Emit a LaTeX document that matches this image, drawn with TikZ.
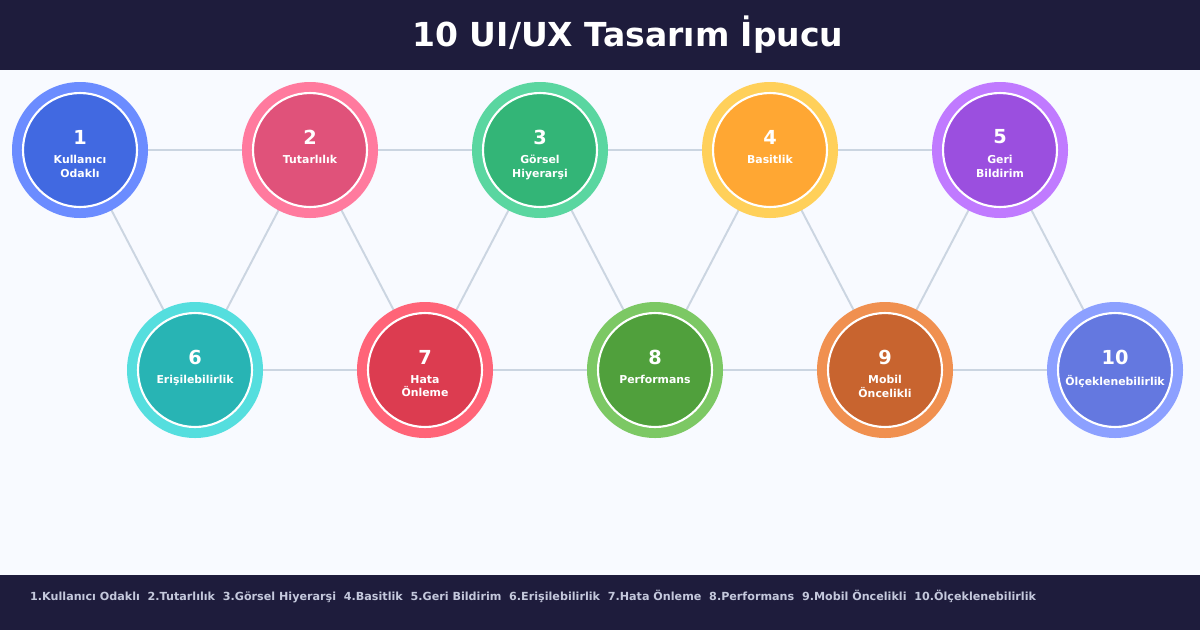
\documentclass[tikz,border=0pt]{standalone}
\usepackage{fontspec}
\setmainfont{DejaVu Sans}
\definecolor{navy}{HTML}{1E1C3C}
\definecolor{paper}{HTML}{F8FAFF}
\definecolor{link}{HTML}{CBD5E1}
\definecolor{foot}{HTML}{C4C8DC}
\tikzset{
  tip/.style={circle, minimum size=2.28cm, inner sep=0pt, draw=white, line width=1.2pt,
    text=white, font=\bfseries, align=center},
  link/.style={draw=link, line width=1.1pt}
}
\begin{document}
\begin{tikzpicture}[x=0.02cm, y=-0.02cm]
  \useasboundingbox (0,0) rectangle (1200,630);
  \fill[paper] (0,0) rectangle (1200,630);
  \fill[navy] (0,0) rectangle (1200,70);
  \fill[navy] (0,575) rectangle (1200,630);
  \node[text=white, font=\fontsize{18.8}{20}\selectfont\bfseries] (title) at (628,35) {10 UI/UX Tasarım İpucu};
  %connectors (drawn first, covered by circles)
  \foreach \n/\x/\y in {1/80/150,2/310/150,3/540/150,4/770/150,5/1000/150,
      6/195/370,7/425/370,8/655/370,9/885/370,10/1115/370}
    \coordinate (c\n) at (\x,\y);
  \foreach \a/\b in {1/2,2/3,3/4,4/5,6/7,7/8,8/9,9/10,1/6,6/2,2/7,7/3,3/8,8/4,4/9,9/5,5/10}
    \draw[link] (c\a) -- (c\b);
  %tips
  \foreach \n/\ring/\core/\txt in {
      1/6B8CFF/4169E1/{Kullanıcı\\Odaklı},
      2/FF7A9E/E0527A/{Tutarlılık},
      3/5AD6A0/33B577/{Görsel\\Hiyerarşi},
      4/FFD05A/FFA733/{Basitlik},
      5/C07AFF/9B4FDF/{Geri\\Bildirim},
      6/55DEDE/28B4B4/{Erişilebilirlik},
      7/FF6478/DC3C50/{Hata\\Önleme},
      8/7CC864/50A03C/{Performans},
      9/F09050/C8642F/{Mobil\\Öncelikli},
      10/8CA0FF/6478E0/{Ölçeklenebilirlik}}{
    \definecolor{ring}{HTML}{\ring}
    \definecolor{core}{HTML}{\core}
    \fill[ring] (c\n) circle (68);
    \node[tip, fill=core] (t\n) at (c\n) {};
    \node[text=white, font=\fontsize{11}{12}\selectfont\bfseries] (n\n) at ([yshift=13*0.02cm]c\n) {\n};
    \node[text=white, font=\fontsize{6.2}{7.8}\selectfont\bfseries, align=center, anchor=north]
      (l\n) at ([yshift=1*0.02cm]c\n) {\txt};
  }
  \node[anchor=west, text=foot, font=\fontsize{6.35}{7}\selectfont\bfseries] (legend) at (24,597)
    {1.Kullanıcı Odaklı\ \ 2.Tutarlılık\ \ 3.Görsel Hiyerarşi\ \ 4.Basitlik\ \ 5.Geri Bildirim\ \ 6.Erişilebilirlik\ \ 7.Hata Önleme\ \ 8.Performans\ \ 9.Mobil Öncelikli\ \ 10.Ölçeklenebilirlik};
\end{tikzpicture}
\end{document}
